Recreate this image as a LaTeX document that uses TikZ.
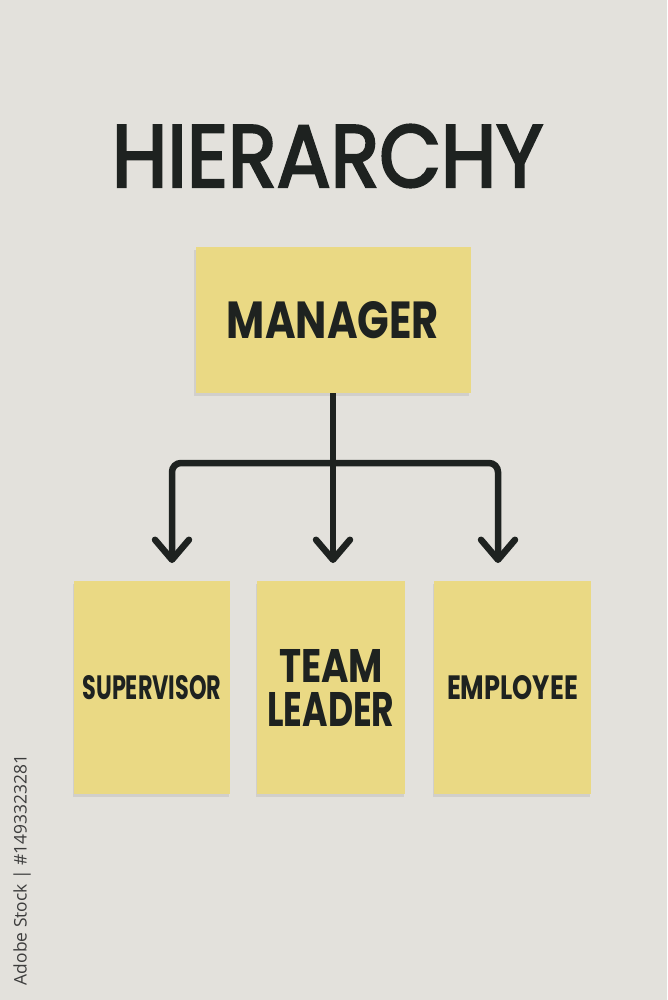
\documentclass[tikz,border=0pt]{standalone}
\usepackage{fontspec}
\setsansfont{Poppins}
\newfontfamily\titlefont{Poppins}[FakeBold=3]
\newfontfamily\stampfont{Open Sans}
\usetikzlibrary{arrows.meta,shadows}
\definecolor{wallgray}{RGB}{227,225,220}
\definecolor{noteyellow}{RGB}{234,217,132}
\definecolor{inkblack}{RGB}{30,34,32}
\definecolor{stampgray}{RGB}{60,60,60}
\newcommand{\fitword}[3]{\resizebox{#1}{#2}{#3}}
\tikzset{
	note/.style={fill=noteyellow, draw=none, inner sep=0pt, text=inkblack,
		font=\sffamily\bfseries,
		drop shadow={shadow xshift=-1.5pt, shadow yshift=-2.5pt, opacity=0.18}},
	link/.style={draw=inkblack, line width=6.5pt, rounded corners=9pt}
}

\begin{document}
\begin{tikzpicture}[x=1pt, y=-1pt]
		%%%%% START %%%%%
		
		\fill[wallgray] (0, 0) rectangle (667, 1000);
		\useasboundingbox (0, 0) rectangle (667, 1000);
		
		\node[text=inkblack, font=\titlefont] (title) at (327.5, 156) {\fitword{431pt}{62pt}{HIERARCHY}};
		
		\node[note, minimum width=275pt, minimum height=146pt] (mgr) at (333, 320) {\fitword{212pt}{37pt}{MANAGER}};
		
		\node[note, minimum width=156pt, minimum height=213pt] (sup) at (152, 687.5) {\fitword{139pt}{24pt}{SUPERVISOR}};
		\node[note, minimum width=148pt, minimum height=213pt, align=center,
			font=\sffamily\bfseries\fontsize{30}{44}\selectfont] (lead) at (331, 687.5)
			{\fitword{104pt}{33pt}{TEAM}\\\fitword{127pt}{34pt}{LEADER}};
		\node[note, minimum width=157pt, minimum height=213pt] (emp) at (512.5, 687.5) {\fitword{131pt}{24pt}{EMPLOYEE}};
		
		\coordinate (split) at (333, 463);
		\coordinate (tipsup) at (172, 563);
		\coordinate (tiplead) at (333, 563);
		\coordinate (tipemp) at (498, 563);
		
		\draw[link, {Straight Barb[length=20pt, width=34pt, round]}-{Straight Barb[length=20pt, width=34pt, round]}] (tipsup) |- (split) -| (tipemp);
		\draw[link, -{Straight Barb[length=20pt, width=34pt, round]}] (mgr.south) -- (tiplead);
		
		\node[rotate=90, text=stampgray, font=\stampfont] (stamp) at (22, 870) {\resizebox{230pt}{!}{Adobe Stock | \#1493323281}};
		
		%%%%% END %%%%%
\end{tikzpicture}
\end{document}
